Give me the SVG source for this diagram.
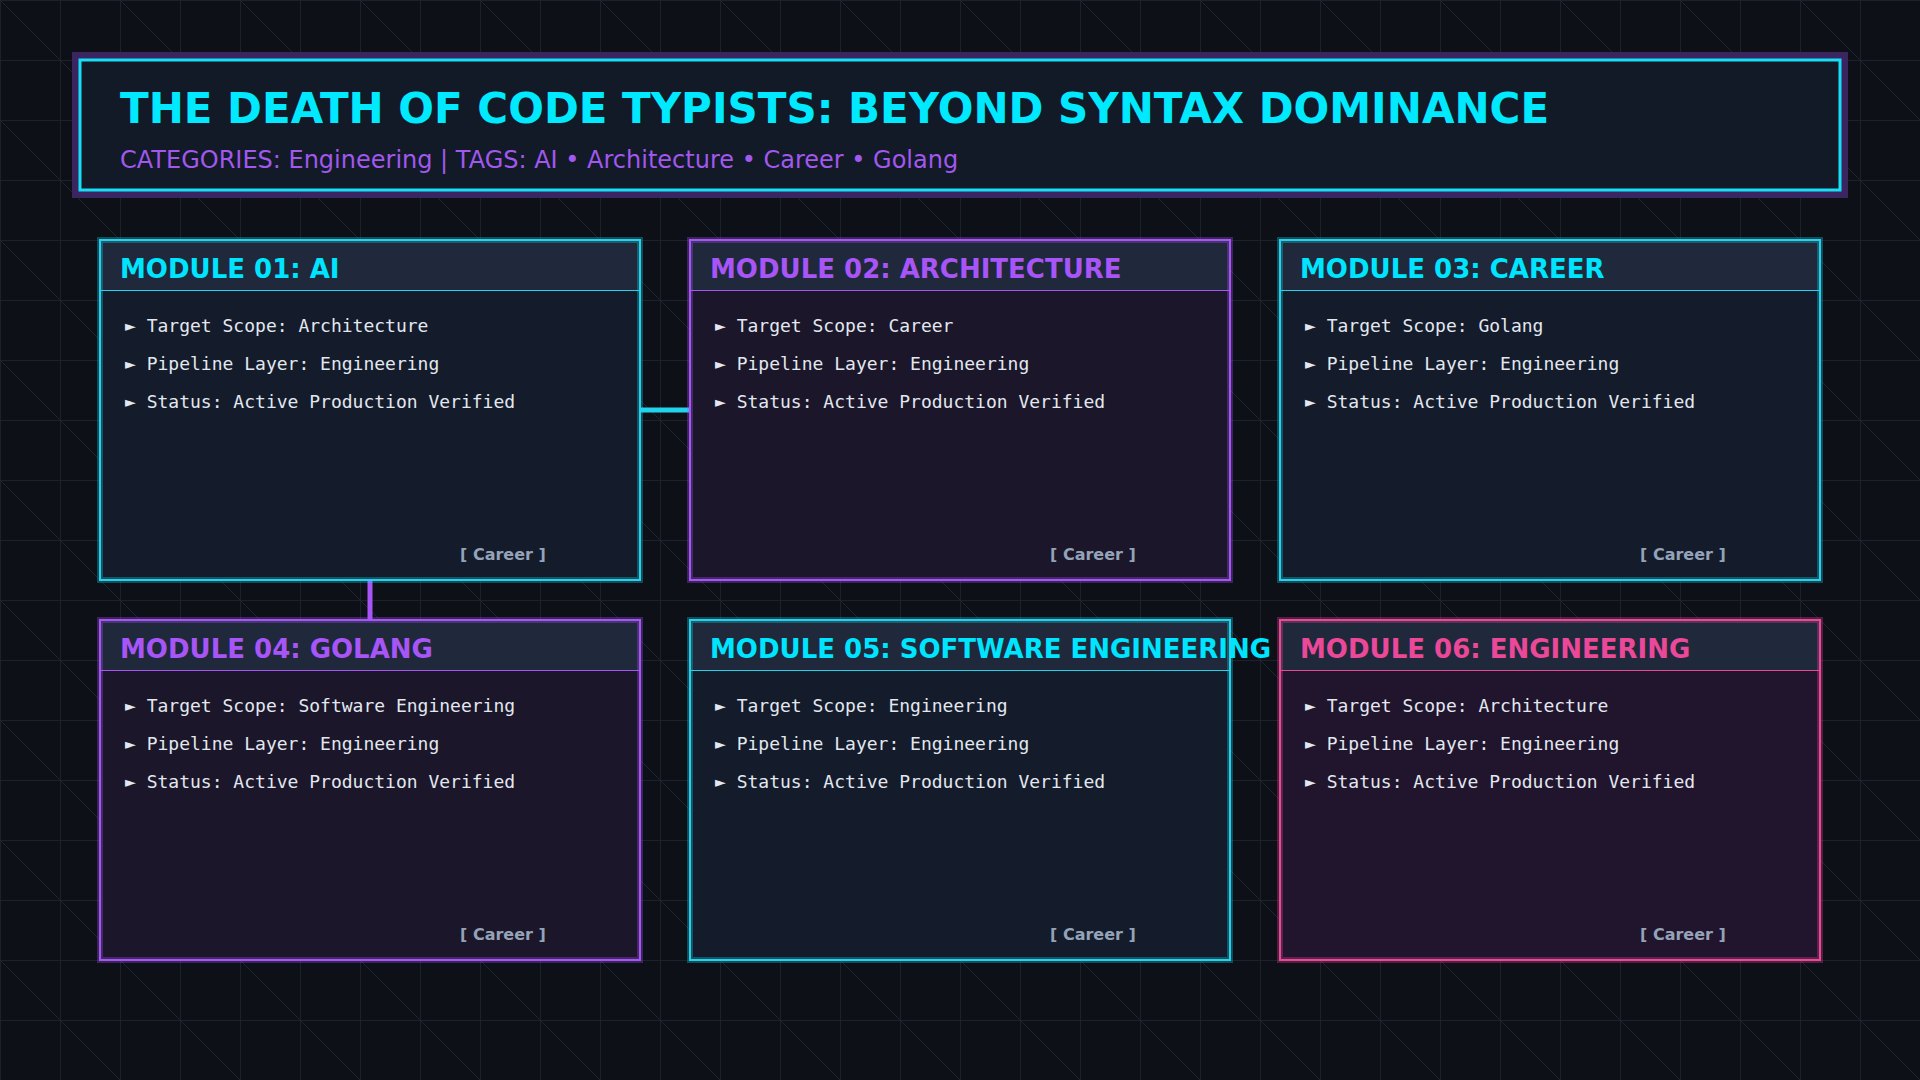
<svg xmlns="http://www.w3.org/2000/svg" width="1920" height="1080" viewBox="0 0 1920 1080">
<defs>
<pattern id="grid" x="0" y="0" width="120" height="120" patternUnits="userSpaceOnUse">
<path d="M0 0.5H120M0 60.5H120M0.5 0V120M60.5 0V120" stroke="#1c222d" stroke-width="1" fill="none"/>
<path d="M0 0L120 120" stroke="#1e2532" stroke-width="1" fill="none"/>
</pattern>
<style>
.bg{fill:#0d1017}
.title{font-family:"DejaVu Sans",sans-serif;font-weight:bold;font-size:42px;fill:#00e9ff}
.sub{font-family:"DejaVu Sans",sans-serif;font-size:24px;fill:#a158ec}
.mt{font-family:"DejaVu Sans",sans-serif;font-weight:bold;font-size:26px}
.ln{font-family:"DejaVu Sans Mono",monospace;font-size:18px;fill:#e2e8f0}
.ft{font-family:"DejaVu Sans",sans-serif;font-weight:bold;font-size:16px;fill:#94a3b8}
.hd{fill:#1f293b}
.glow{fill:none;stroke-width:6;opacity:0.3}
.bd{fill:none;stroke-width:2}
.cy{stroke:#22d3ee}
.pu{stroke:#a855f7}
.pk{stroke:#ec4899}
.tcy{fill:#00e5ff}
.tpu{fill:#a855f7}
.tpk{fill:#ec4899}
.bcy{fill:#141b2a}
.bpu{fill:#1b1629}
.bpk{fill:#21142d}
</style>
</defs>
<rect class="bg" x="0" y="0" width="1920" height="1080"/>
<rect x="0" y="0" width="1920" height="1080" fill="url(#grid)"/>

<g id="header">
<rect x="72" y="52" width="1776" height="146" fill="#3b2560"/>
<rect x="80" y="60" width="1760" height="130" fill="#121927" stroke="#16e0f5" stroke-width="3"/>
<text class="title" x="120" y="123">THE DEATH OF CODE TYPISTS: BEYOND SYNTAX DOMINANCE</text>
<text class="sub" x="120" y="168">CATEGORIES: Engineering | TAGS: AI • Architecture • Career • Golang</text>
</g>

<g id="connectors">
<line x1="640" y1="410" x2="690" y2="410" stroke="#22d3ee" stroke-width="5"/>
<line x1="370" y1="580" x2="370" y2="620" stroke="#a855f7" stroke-width="5"/>
</g>

<g id="module01">
<rect class="bcy" x="100" y="240" width="540" height="340"/>
<rect class="hd" x="100" y="240" width="540" height="50"/>
<line class="cy" x1="100" y1="290.5" x2="640" y2="290.5" stroke-width="1"/>
<rect class="glow cy" x="100" y="240" width="540" height="340"/>
<rect class="bd cy" x="100" y="240" width="540" height="340"/>
<text class="mt tcy" x="120" y="278">MODULE 01: AI</text>
<text class="ln" x="125" y="332">► Target Scope: Architecture</text>
<text class="ln" x="125" y="370">► Pipeline Layer: Engineering</text>
<text class="ln" x="125" y="408">► Status: Active Production Verified</text>
<text class="ft" x="460" y="560">[ Career ]</text>
</g>

<g id="module02">
<rect class="bpu" x="690" y="240" width="540" height="340"/>
<rect class="hd" x="690" y="240" width="540" height="50"/>
<line class="pu" x1="690" y1="290.5" x2="1230" y2="290.5" stroke-width="1"/>
<rect class="glow pu" x="690" y="240" width="540" height="340"/>
<rect class="bd pu" x="690" y="240" width="540" height="340"/>
<text class="mt tpu" x="710" y="278">MODULE 02: ARCHITECTURE</text>
<text class="ln" x="715" y="332">► Target Scope: Career</text>
<text class="ln" x="715" y="370">► Pipeline Layer: Engineering</text>
<text class="ln" x="715" y="408">► Status: Active Production Verified</text>
<text class="ft" x="1050" y="560">[ Career ]</text>
</g>

<g id="module03">
<rect class="bcy" x="1280" y="240" width="540" height="340"/>
<rect class="hd" x="1280" y="240" width="540" height="50"/>
<line class="cy" x1="1280" y1="290.5" x2="1820" y2="290.5" stroke-width="1"/>
<rect class="glow cy" x="1280" y="240" width="540" height="340"/>
<rect class="bd cy" x="1280" y="240" width="540" height="340"/>
<text class="mt tcy" x="1300" y="278">MODULE 03: CAREER</text>
<text class="ln" x="1305" y="332">► Target Scope: Golang</text>
<text class="ln" x="1305" y="370">► Pipeline Layer: Engineering</text>
<text class="ln" x="1305" y="408">► Status: Active Production Verified</text>
<text class="ft" x="1640" y="560">[ Career ]</text>
</g>

<g id="module04">
<rect class="bpu" x="100" y="620" width="540" height="340"/>
<rect class="hd" x="100" y="620" width="540" height="50"/>
<line class="pu" x1="100" y1="670.5" x2="640" y2="670.5" stroke-width="1"/>
<rect class="glow pu" x="100" y="620" width="540" height="340"/>
<rect class="bd pu" x="100" y="620" width="540" height="340"/>
<text class="mt tpu" x="120" y="658">MODULE 04: GOLANG</text>
<text class="ln" x="125" y="712">► Target Scope: Software Engineering</text>
<text class="ln" x="125" y="750">► Pipeline Layer: Engineering</text>
<text class="ln" x="125" y="788">► Status: Active Production Verified</text>
<text class="ft" x="460" y="940">[ Career ]</text>
</g>

<g id="module05">
<rect class="bcy" x="690" y="620" width="540" height="340"/>
<rect class="hd" x="690" y="620" width="540" height="50"/>
<line class="cy" x1="690" y1="670.5" x2="1230" y2="670.5" stroke-width="1"/>
<rect class="glow cy" x="690" y="620" width="540" height="340"/>
<rect class="bd cy" x="690" y="620" width="540" height="340"/>
<text class="mt tcy" x="710" y="658">MODULE 05: SOFTWARE ENGINEERING</text>
<text class="ln" x="715" y="712">► Target Scope: Engineering</text>
<text class="ln" x="715" y="750">► Pipeline Layer: Engineering</text>
<text class="ln" x="715" y="788">► Status: Active Production Verified</text>
<text class="ft" x="1050" y="940">[ Career ]</text>
</g>

<g id="module06">
<rect class="bpk" x="1280" y="620" width="540" height="340"/>
<rect class="hd" x="1280" y="620" width="540" height="50"/>
<line class="pk" x1="1280" y1="670.5" x2="1820" y2="670.5" stroke-width="1"/>
<rect class="glow pk" x="1280" y="620" width="540" height="340"/>
<rect class="bd pk" x="1280" y="620" width="540" height="340"/>
<text class="mt tpk" x="1300" y="658">MODULE 06: ENGINEERING</text>
<text class="ln" x="1305" y="712">► Target Scope: Architecture</text>
<text class="ln" x="1305" y="750">► Pipeline Layer: Engineering</text>
<text class="ln" x="1305" y="788">► Status: Active Production Verified</text>
<text class="ft" x="1640" y="940">[ Career ]</text>
</g>
</svg>
